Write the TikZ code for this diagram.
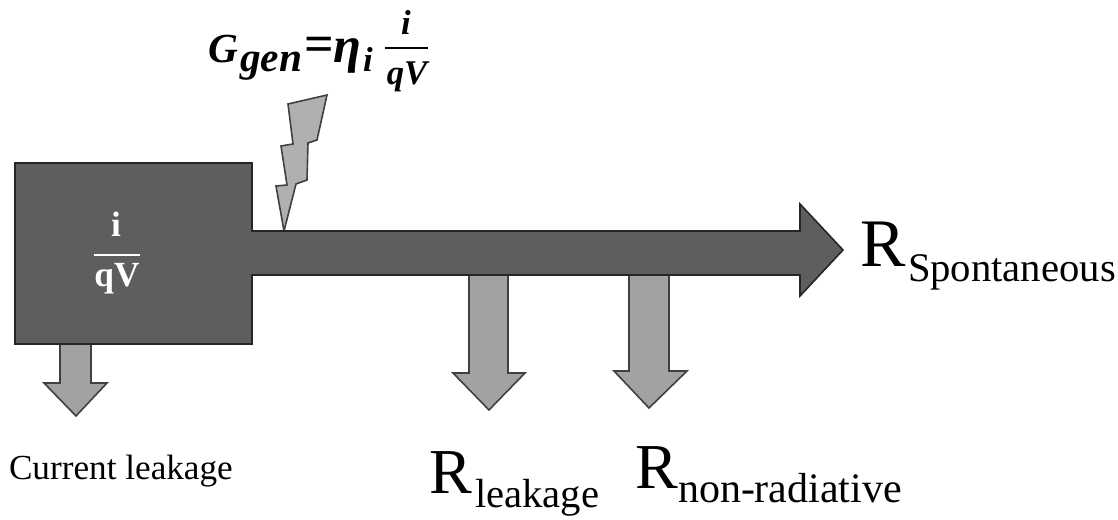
\documentclass[tikz,border=0pt]{standalone}
\usepackage{fontspec}
\setmainfont{Liberation Serif}
\newcommand{\fs}[1]{\fontsize{#1}{#1}\selectfont}
\tikzset{
  x=0.75pt,y=-0.75pt,
  lbl/.style={anchor=base west,inner sep=0pt,outer sep=0pt,text=black},
  wlbl/.style={anchor=base,inner sep=0pt,outer sep=0pt,text=white,font=\bfseries\fs{26.5}},
  darkblock/.style={fill=darkfill,draw=black!85,line width=1.2pt,line join=miter},
  lightblock/.style={fill=lightfill,draw=black!75,line width=1.2pt,line join=miter},
  fbar/.style={line width=1.3pt}
}
\definecolor{darkfill}{HTML}{5E5E5E}
\definecolor{lightfill}{HTML}{A2A2A2}
\begin{document}
\begin{tikzpicture}
\useasboundingbox (0,0) rectangle (1118,520);
% down arrows
\draw[lightblock] (60,344) -- (91,344) -- (91,383) -- (107,383) -- (76,416) -- (44,383) -- (60,383) -- cycle;
\draw[lightblock] (469,274) -- (508,274) -- (508,373) -- (525,373) -- (489,410) -- (453,373) -- (469,373) -- cycle;
\draw[lightblock] (629,274) -- (669,274) -- (669,371) -- (687,371) -- (649,408) -- (614,371) -- (629,371) -- cycle;
% bolt
\draw[lightblock,fill=lightfill!85!white] (284,231) -- (276,186) -- (287,185) -- (281,146) -- (293,144) -- (288,104) -- (327,95) -- (317,140) -- (308,143) -- (307,180) -- (296,184) -- cycle;
% main arrow and box
\draw[darkblock] (15,163) -- (252,163) -- (252,231) -- (800,231) -- (800,204) -- (843,250) -- (800,296) -- (800,275) -- (252,275) -- (252,344) -- (15,344) -- cycle;
% box label
\node[wlbl] (boxi) at (116,237) {i};
\node[wlbl] (boxq) at (117,287) {qV};
\draw[white,fbar] (94,255) -- (140,255);
% formula
\node[lbl,font=\bfseries\itshape\fs{31}] (G) at (208,63) {G};
\node[lbl,font=\bfseries\itshape\fs{31}] (gen) at (240,72) {gen};
\node[lbl,font=\bfseries\fs{39}] (eq) at (304,62) {=};
\node[lbl,font=\bfseries\itshape\fs{38}] (eta) at (333,63) {η};
\node[lbl,font=\bfseries\itshape\fs{26}] (ii) at (363,72) {i};
\node[wlbl,text=black,font=\bfseries\itshape\fs{26}] (fi) at (406,35) {i};
\node[wlbl,text=black,font=\bfseries\itshape\fs{26}] (fq) at (407,85) {qV};
\draw[black,fbar] (385,48) -- (428,48);
% R labels
\node[lbl,font=\fs{51}] (R1) at (860,267) {R};
\node[lbl,font=\fs{30.5}] (S1) at (908,282) {Spontaneous};
\node[lbl,font=\fs{48}] (R2) at (429,493) {R};
\node[lbl,font=\fs{30.5}] (S2) at (475,507) {leakage};
\node[lbl,font=\fs{48}] (R3) at (635,488) {R};
\node[lbl,font=\fs{31.5}] (S3) at (678,502) {non-radiative};
\node[lbl,font=\fs{26.4}] (cl) at (9,479) {Current leakage};
\end{tikzpicture}
\end{document}
